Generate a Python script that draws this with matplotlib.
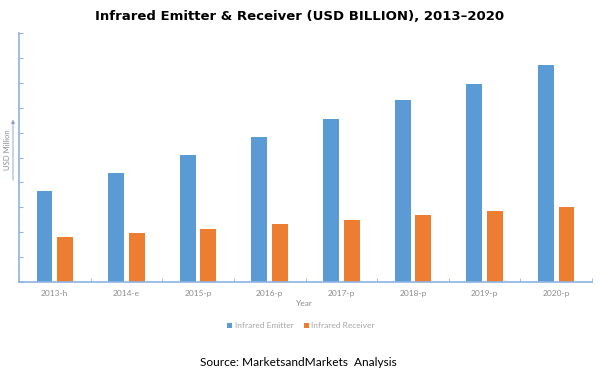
import matplotlib
matplotlib.use("Agg")
import matplotlib.pyplot as plt
import numpy as np

years = ["2013-h", "2014-e", "2015-p", "2016-p", "2017-p", "2018-p", "2019-p", "2020-p"]
emitter = [3.66, 4.39, 5.11, 5.84, 6.56, 7.29, 7.97, 8.70]
receiver = [1.81, 1.97, 2.13, 2.33, 2.50, 2.70, 2.86, 3.02]

blue = "#5B9BD5"
orange = "#ED7D31"
axis_col = "#8DB3E2"
text_col = "#8C8C8C"

plt.rcParams["font.family"] = ["Lato", "DejaVu Sans"]

fig = plt.figure(figsize=(6.01, 3.73), dpi=100)
ax = fig.add_axes([19 / 601, 1 - 282 / 373, 573 / 601, 249 / 373])

x = np.arange(len(years))
w = 0.223
ax.bar(x - 0.144, emitter, w, color=blue, label="Infrared Emitter")
ax.bar(x + 0.144, receiver, w, color=orange, label="Infrared Receiver")

ax.set_xlim(-0.5, len(years) - 0.5)
ax.set_ylim(0, 10)
ax.set_yticks(np.arange(0, 11, 1))
ax.set_yticklabels([])
ax.set_xticks(x)
ax.set_xticklabels(years, fontsize=6, color=text_col)
ax.set_xticks(np.arange(-0.5, len(years), 1), minor=True)
ax.tick_params(axis="x", which="major", length=0, pad=6)
ax.tick_params(axis="x", which="minor", length=3, color=axis_col, direction="in")
ax.tick_params(axis="y", length=3, color=axis_col, direction="in")

for side in ["top", "right"]:
    ax.spines[side].set_visible(False)
for side in ["left", "bottom"]:
    ax.spines[side].set_color(axis_col)
    ax.spines[side].set_linewidth(1.2)

# axis titles
fig.text(304 / 601, 1 - 304 / 373, "Year", fontsize=6, color=text_col, ha="center", va="center")
fig.text(8 / 601, 1 - 150 / 373, "USD Million", fontsize=5.5, color=text_col,
         rotation=90, ha="center", va="center")
fig.add_artist(matplotlib.patches.FancyArrowPatch(
    (13 / 601, 1 - 183 / 373), (13 / 601, 1 - 117 / 373), transform=fig.transFigure,
    arrowstyle="-|>", mutation_scale=5, color="#7F9CC4", lw=0.6))

fig.legend(loc="center", bbox_to_anchor=(301 / 601, 1 - 326 / 373), ncol=2, frameon=False,
           fontsize=6, labelcolor="#A6A6A6", handlelength=0.6, handleheight=0.6,
           handletextpad=0.3, columnspacing=1.2)

fig.text(299.5 / 601, 1 - 17 / 373, "Infrared Emitter & Receiver (USD BILLION), 2013\u20132020",
         fontsize=9.5, fontweight="bold", family="DejaVu Sans", ha="center", va="center")
fig.text(298 / 601, 1 - 362 / 373, "Source: MarketsandMarkets  Analysis",
         fontsize=8.6, ha="center", va="center")

fig.savefig("out.png", dpi=100)
